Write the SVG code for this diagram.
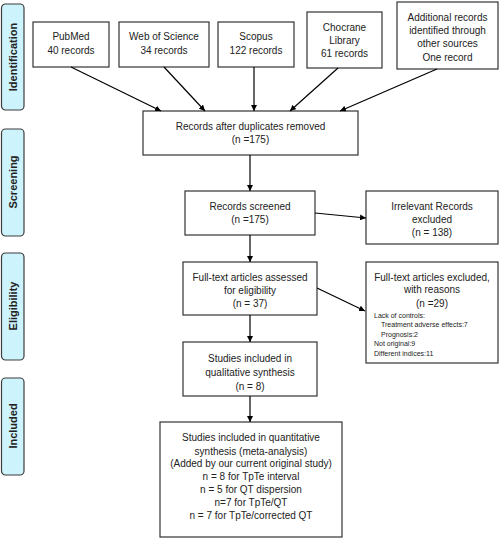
<svg xmlns="http://www.w3.org/2000/svg" width="500" height="538" viewBox="0 0 500 538">
<defs>
<marker id="ah" viewBox="0 0 10 10" refX="10" refY="5" markerWidth="6" markerHeight="6" orient="auto" markerUnits="userSpaceOnUse">
<path d="M0,0 L10,5 L0,10 z" fill="#000"/>
</marker>
<style>
.box{fill:#fff;stroke:#333;stroke-width:1.2}
.side{fill:#cdf3fd;stroke:#3c3c3c;stroke-width:1.2}
.t{font-family:"Liberation Sans",Arial,sans-serif;font-size:10px;fill:#222;text-anchor:middle}
.s{font-family:"Liberation Sans",Arial,sans-serif;font-size:7px;fill:#222}
.lab{font-family:"Liberation Sans",Arial,sans-serif;font-size:11px;font-weight:bold;fill:#222;text-anchor:middle}
.c{stroke:#000;stroke-width:1.2;fill:none;marker-end:url(#ah)}
</style>
</defs>
<rect width="500" height="538" fill="#fff"/>
<g id="side-identification"><rect class="side" x="1.5" y="4" width="22.5" height="106" rx="4"/><text class="lab" transform="translate(17,57) rotate(-90)">Identification</text></g>
<g id="side-screening"><rect class="side" x="1.5" y="129" width="22.5" height="107" rx="4"/><text class="lab" transform="translate(17,182) rotate(-90)">Screening</text></g>
<g id="side-eligibility"><rect class="side" x="1.5" y="253" width="22.5" height="107" rx="4"/><text class="lab" transform="translate(17,306) rotate(-90)">Eligibility</text></g>
<g id="side-included"><rect class="side" x="1.5" y="378" width="22.5" height="97" rx="4"/><text class="lab" transform="translate(17,426) rotate(-90)">Included</text></g>

<g id="pubmed"><rect class="box" x="33" y="22" width="76" height="45"/><text class="t" x="71" y="40">PubMed</text><text class="t" x="71" y="54">40 records</text></g>
<g id="wos"><rect class="box" x="119" y="22" width="90" height="45"/><text class="t" x="164" y="40">Web of Science</text><text class="t" x="164" y="54">34 records</text></g>
<g id="scopus"><rect class="box" x="218" y="22" width="76" height="45"/><text class="t" x="256" y="40">Scopus</text><text class="t" x="256" y="54">122 records</text></g>
<g id="chocrane"><rect class="box" x="307" y="12" width="75" height="56"/><text class="t" x="344.5" y="31">Chocrane</text><text class="t" x="344.5" y="44">Library</text><text class="t" x="344.5" y="57">61 records</text></g>
<g id="additional"><rect class="box" x="397" y="2" width="101" height="67"/><text class="t" x="447.5" y="20.5">Additional records</text><text class="t" x="447.5" y="34">identified through</text><text class="t" x="447.5" y="47">other sources</text><text class="t" x="447.5" y="60.5">One record</text></g>

<g id="dedup"><rect class="box" x="143" y="111" width="215" height="44"/><text class="t" x="250.5" y="130">Records after duplicates removed</text><text class="t" x="250.5" y="143">(n =175)</text></g>
<g id="screened"><rect class="box" x="185" y="191" width="130" height="44"/><text class="t" x="250" y="210">Records screened</text><text class="t" x="250" y="223">(n =175)</text></g>
<g id="irrelevant"><rect class="box" x="366" y="191" width="132" height="53"/><text class="t" x="432" y="210">Irrelevant Records</text><text class="t" x="432" y="223">excluded</text><text class="t" x="432" y="236">(n = 138)</text></g>
<g id="fulltext"><rect class="box" x="183" y="262" width="134" height="53"/><text class="t" x="250" y="281">Full-text articles assessed</text><text class="t" x="250" y="294">for eligibility</text><text class="t" x="250" y="307">(n = 37)</text></g>
<g id="excluded"><rect class="box" x="366" y="262" width="132" height="101"/><text class="t" x="432" y="281">Full-text articles excluded,</text><text class="t" x="432" y="293">with reasons</text><text class="t" x="432" y="307">(n =29)</text>
<text class="s" x="374" y="318">Lack of controls:</text><text class="s" x="381" y="327">Treatment adverse effects:7</text><text class="s" x="381" y="337">Prognosis:2</text><text class="s" x="374" y="346">Not original:9</text><text class="s" x="374" y="356">Different indices:11</text></g>
<g id="qualitative"><rect class="box" x="183" y="342" width="134" height="54"/><text class="t" x="250" y="362">Studies included in</text><text class="t" x="250" y="376">qualitative synthesis</text><text class="t" x="250" y="390">(n = 8)</text></g>
<g id="quantitative"><rect class="box" x="160" y="422" width="182" height="115"/><text class="t" x="251" y="441">Studies included in quantitative</text><text class="t" x="251" y="455">synthesis (meta-analysis)</text><text class="t" x="251" y="467">(Added by our current original study)</text><text class="t" x="251" y="480">n = 8 for TpTe interval</text><text class="t" x="251" y="493">n = 5 for QT dispersion</text><text class="t" x="251" y="506">n=7 for TpTe/QT</text><text class="t" x="251" y="519">n = 7 for TpTe/corrected QT</text></g>

<g id="connectors">
<line class="c" x1="71" y1="67" x2="161" y2="111"/>
<line class="c" x1="164" y1="67" x2="205" y2="111"/>
<line class="c" x1="254" y1="67" x2="254" y2="111"/>
<line class="c" x1="338" y1="68" x2="290" y2="111"/>
<line class="c" x1="437" y1="69" x2="340" y2="111"/>
<line class="c" x1="250" y1="155" x2="250" y2="191"/>
<line class="c" x1="315" y1="213" x2="366" y2="218"/>
<line class="c" x1="250" y1="235" x2="250" y2="262"/>
<line class="c" x1="317" y1="288" x2="365" y2="311"/>
<line class="c" x1="250" y1="315" x2="250" y2="342"/>
<line class="c" x1="250" y1="396" x2="250" y2="422"/>
</g>
</svg>
